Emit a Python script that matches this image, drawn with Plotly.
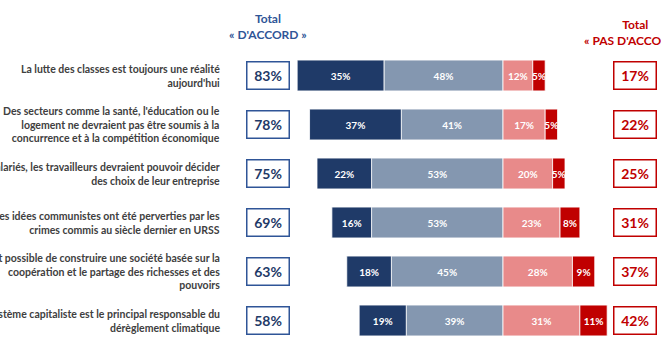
import plotly.graph_objects as go

# ---- data ----
statements = [
    "Le système capitaliste est le principal responsable du<br>dérèglement climatique",
    "Il est possible de construire une société basée sur la<br>coopération et le partage des richesses et des<br>pouvoirs",
    "Les idées communistes ont été perverties par les<br>crimes commis au siècle dernier en URSS",
    "Plutôt que les actionnaires non salariés, les travailleurs devraient pouvoir décider<br>des choix de leur entreprise",
    "Des secteurs comme la santé, l'éducation ou le<br>logement ne devraient pas être soumis à la<br>concurrence et à la compétition économique",
    "La lutte des classes est toujours une réalité<br>aujourd'hui",
][::-1]
tout_a_fait = [35, 37, 22, 16, 18, 19]
plutot_oui = [48, 41, 53, 53, 45, 39]
plutot_pas = [12, 17, 20, 23, 28, 31]
pas_du_tout = [5, 5, 5, 8, 9, 11]
total_accord = [83, 78, 75, 69, 63, 58]
total_pas = [17, 22, 25, 31, 37, 42]

header_left = "Total<br>« D'ACCORD »"
header_right = "Total<br>« PAS D'ACCORD »"

DARK_BLUE = "#1F3A68"
LIGHT_BLUE = "#8497B0"
PINK = "#E88A8A"
RED = "#C00000"
FONT = "Lato"

fig = go.Figure()

def add(vals, color, sign):
    fig.add_trace(go.Bar(
        y=statements,
        x=[sign * v for v in vals],
        orientation="h",
        marker=dict(color=color, line=dict(color="white", width=0.8)),
        text=[f"{v}%" for v in vals],
        textposition="inside",
        insidetextanchor="middle",
        textangle=0,
        textfont=dict(family=FONT, size=10, color="white", weight="bold"),
        constraintext="none",
        hoverinfo="skip",
        showlegend=False,
    ))

add(plutot_oui, LIGHT_BLUE, -1)
add(tout_a_fait, DARK_BLUE, -1)
add(plutot_pas, PINK, 1)
add(pas_du_tout, RED, 1)

W, H = 661, 345
TOP = 51
zero_px = 503
px_per = 2.48
xmin = -zero_px / px_per
xmax = (W - zero_px) / px_per


def py(p):
    return (H - p) / (H - TOP)


annotations = []
for s, a, p in zip(statements, total_accord, total_pas):
    annotations.append(dict(
        x=222 / W, xref="paper", y=s, yref="y", xanchor="right", yanchor="middle",
        text=s, showarrow=False, align="right",
        font=dict(family=FONT, size=10.5, color="#404040", weight="bold"),
    ))
    annotations.append(dict(
        x=268 / W, xref="paper", y=s, yref="y", xanchor="center", yanchor="middle",
        text=f"{a}%", showarrow=False, width=41, height=26,
        bordercolor="#2F5597", borderwidth=1.5, borderpad=0,
        font=dict(family=FONT, size=14, color="#1F3A68", weight="bold"),
    ))
    annotations.append(dict(
        x=635 / W, xref="paper", y=s, yref="y", xanchor="center", yanchor="middle",
        text=f"{p}%", showarrow=False, width=41, height=26,
        bordercolor=RED, borderwidth=1.5, borderpad=0,
        font=dict(family=FONT, size=14, color=RED, weight="bold"),
    ))

annotations.append(dict(
    x=268 / W, xref="paper", y=py(27), yref="paper", xanchor="center", yanchor="middle",
    text=header_left, showarrow=False, align="center",
    font=dict(family=FONT, size=12, color="#2F5597", weight="bold"),
))
annotations.append(dict(
    x=635 / W, xref="paper", y=py(32), yref="paper", xanchor="center", yanchor="middle",
    text=header_right, showarrow=False, align="center",
    font=dict(family=FONT, size=12, color=RED, weight="bold"),
))

fig.update_layout(
    width=W, height=H,
    margin=dict(l=0, r=0, t=TOP, b=0),
    barmode="relative",
    bargap=0.37,
    paper_bgcolor="white",
    plot_bgcolor="white",
    uniformtext=dict(minsize=10, mode="show"),
    xaxis=dict(range=[xmin, xmax], visible=False, fixedrange=True),
    yaxis=dict(categoryorder="array", categoryarray=statements, autorange="reversed",
               visible=False, fixedrange=True),
    annotations=annotations,
)

fig.write_html("out.html")
